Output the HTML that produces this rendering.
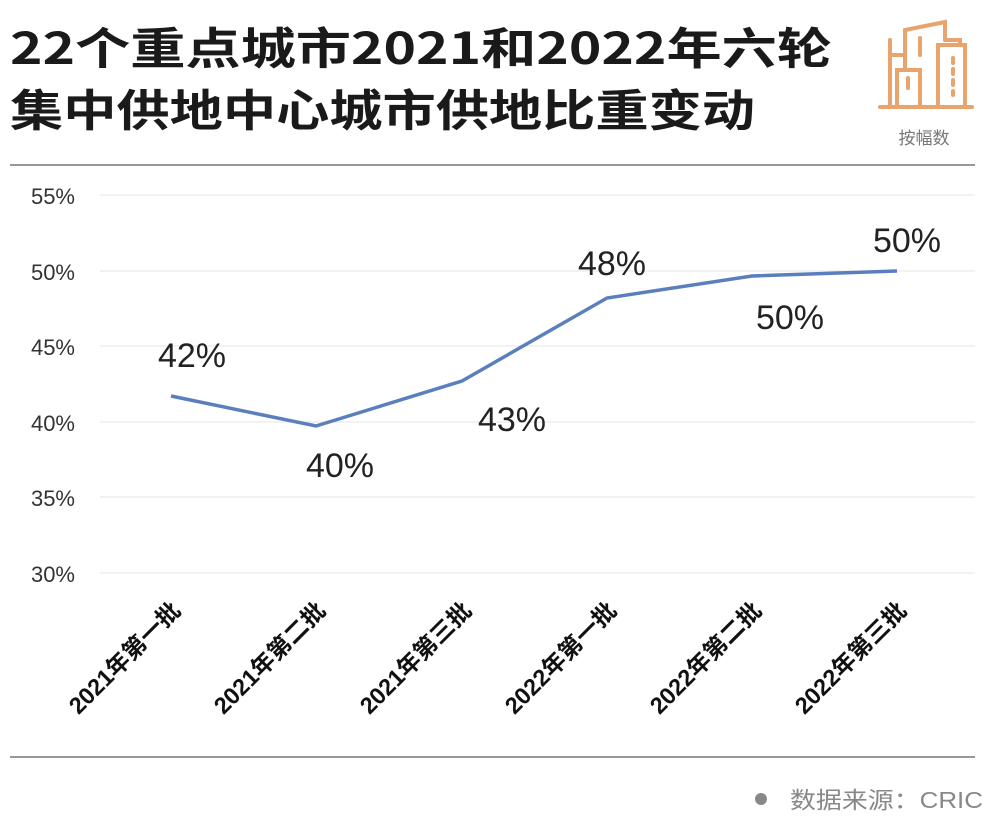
<!DOCTYPE html>
<html><head><meta charset="utf-8"><style>
body{margin:0;background:#fff;}
svg text{font-family:"Liberation Sans","Noto Sans CJK SC",sans-serif;}
</style></head><body>
<svg width="1000" height="835" viewBox="0 0 1000 835" xmlns="http://www.w3.org/2000/svg">
<rect width="1000" height="835" fill="#fff"/>
<text x="10" y="64" font-size="44" font-weight="bold" fill="#1a1a1a" textLength="822" lengthAdjust="spacingAndGlyphs" style="font-family:'Noto Sans CJK SC',sans-serif">22个重点城市2021和2022年六轮</text>
<text x="10" y="126" font-size="44" font-weight="bold" fill="#1a1a1a" textLength="745" lengthAdjust="spacingAndGlyphs" style="font-family:'Noto Sans CJK SC',sans-serif">集中供地中心城市供地比重变动</text>
<g fill="none" stroke="#e9a36c" stroke-width="4" stroke-linecap="round">
<line x1="880" y1="107" x2="972" y2="107"/>
<polyline points="890,105 890,55 905,55"/>
<line x1="890" y1="55" x2="890" y2="40"/>
<polyline points="897,105 897,70 920,70 920,105"/>
<polyline points="905,70 905,30 945,22 945,40"/>
<polyline points="938,105 938,45 965,45 965,105"/>
<polyline points="945,40 960,40 960,45"/>
<line x1="920" y1="38" x2="920" y2="55"/>
<line x1="953" y1="58" x2="953" y2="95" stroke-dasharray="5 6"/>
<line x1="908" y1="78" x2="908" y2="88"/>
</g>
<text x="924" y="144" font-size="17" fill="#777" text-anchor="middle">按幅数</text>
<line x1="10" y1="165" x2="975" y2="165" stroke="#777" stroke-width="1.5"/>
<g stroke="#e4e4e4" stroke-width="1">
<line x1="100" y1="195" x2="975" y2="195"/>
<line x1="100" y1="271" x2="975" y2="271"/>
<line x1="100" y1="346" x2="975" y2="346"/>
<line x1="100" y1="422" x2="975" y2="422"/>
<line x1="100" y1="497" x2="975" y2="497"/>
<line x1="100" y1="573" x2="975" y2="573"/>
</g>
<g font-size="22" fill="#333" text-anchor="end">
<text x="75" y="204">55%</text>
<text x="75" y="280">50%</text>
<text x="75" y="355">45%</text>
<text x="75" y="431">40%</text>
<text x="75" y="506">35%</text>
<text x="75" y="582">30%</text>
</g>
<polyline fill="none" stroke="#5b7fbd" stroke-width="3.5" points="171,396 316,426 462,381 607,298 752,276 897,271"/>
<g font-size="34" fill="#222" text-anchor="middle">
<text x="192" y="367">42%</text>
<text x="340" y="477">40%</text>
<text x="512" y="431">43%</text>
<text x="612" y="275">48%</text>
<text x="790" y="329">50%</text>
<text x="907" y="252">50%</text>
</g>
<g font-size="23.5" fill="#111" font-weight="bold" text-anchor="end">
<text transform="translate(182,612) rotate(-45)">2021年第一批</text>
<text transform="translate(327,612) rotate(-45)">2021年第二批</text>
<text transform="translate(473,612) rotate(-45)">2021年第三批</text>
<text transform="translate(618,612) rotate(-45)">2022年第一批</text>
<text transform="translate(763,612) rotate(-45)">2022年第二批</text>
<text transform="translate(908,612) rotate(-45)">2022年第三批</text>
</g>
<line x1="10" y1="757" x2="975" y2="757" stroke="#777" stroke-width="1.5"/>
<circle cx="761" cy="799" r="6" fill="#888"/>
<text x="983" y="808" font-size="23" fill="#888" text-anchor="end" textLength="193" lengthAdjust="spacingAndGlyphs">数据来源：CRIC</text>
</svg>
</body></html>
